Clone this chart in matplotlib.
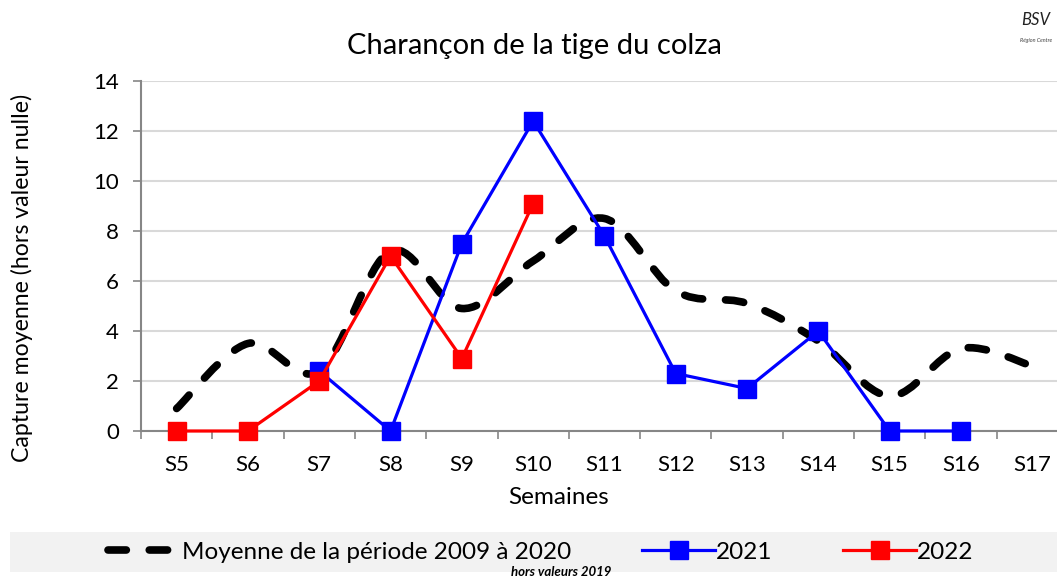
import numpy as np
import matplotlib
matplotlib.use("Agg")
import matplotlib.pyplot as plt
from matplotlib.path import Path
from matplotlib.patches import PathPatch, Rectangle
from matplotlib.lines import Line2D

# ---- data ----
weeks = ["S5", "S6", "S7", "S8", "S9", "S10", "S11", "S12", "S13", "S14", "S15", "S16", "S17"]
mean_2009_2020 = [0.9, 3.5, 2.4, 7.2, 4.9, 6.8, 8.5, 5.6, 5.1, 3.6, 1.4, 3.3, 2.6]
y2021 = [np.nan, np.nan, 2.4, 0.0, 7.5, 12.4, 7.8, 2.3, 1.7, 4.0, 0.0, 0.0, np.nan]
y2022 = [0.0, 0.0, 2.0, 7.0, 2.9, 9.1, np.nan, np.nan, np.nan, np.nan, np.nan, np.nan, np.nan]
yticks = [0, 2, 4, 6, 8, 10, 12, 14]

plt.rcParams['font.family'] = ['Lato', 'DejaVu Sans']

W, H = 1057, 578
fig = plt.figure(figsize=(W / 100, H / 100), dpi=100)

# axes: x from 141 px, width 13 categories * 71.3 px; y from 81 to 431 px
left, right = 141, 141 + 13 * 71.3
top, bottom = 81, 431
ax = fig.add_axes([left / W, 1 - bottom / H, (right - left) / W, (bottom - top) / H])

x = np.arange(len(weeks))

# smoothed mean line (Excel-like Catmull-Rom Bezier)
pts = np.column_stack([x, mean_2009_2020]).astype(float)
ext = np.vstack([pts[0], pts, pts[-1]])
verts = [tuple(pts[0])]
codes = [Path.MOVETO]
for i in range(len(pts) - 1):
    p_prev, p0, p1, p_next = ext[i], ext[i + 1], ext[i + 2], ext[i + 3]
    c1 = p0 + (p1 - p_prev) / 6.0
    c2 = p1 - (p_next - p0) / 6.0
    verts += [tuple(c1), tuple(c2), tuple(p1)]
    codes += [Path.CURVE4] * 3
mean_style = dict(color='black', lw=5.5, dashes=(2.4, 3.0), dash_capstyle='round')
patch = PathPatch(Path(verts, codes), fill=False, edgecolor='black', lw=5.5,
                  linestyle=(0, (2.4, 3.0)), capstyle='round', zorder=3)
ax.add_patch(patch)

ax.plot(x, y2021, color='#0000ff', lw=2.3, marker='s', markersize=13, zorder=4, clip_on=False)
ax.plot(x, y2022, color='#ff0000', lw=2.3, marker='s', markersize=13, zorder=5, clip_on=False)

ax.set_xlim(-0.5, len(weeks) - 0.5)
ax.set_ylim(0, 14)
ax.set_yticks(yticks)
ax.set_yticklabels([str(v) for v in yticks], fontsize=16)
ax.set_xticks(x)
ax.set_xticklabels(weeks, fontsize=16)
ax.set_xticks(np.arange(-0.5, len(weeks), 1.0), minor=True)
ax.tick_params(axis='x', which='major', length=0, pad=17)
ax.tick_params(axis='x', which='minor', length=6, width=1.2, color='#868686', direction='out')
ax.tick_params(axis='y', length=6, width=1.2, color='#868686', direction='out', pad=10)
ax.grid(axis='y', color='#d9d9d9', lw=1.5)
ax.set_axisbelow(True)
for s in ['top', 'right']:
    ax.spines[s].set_visible(False)
for s in ['left', 'bottom']:
    ax.spines[s].set_color('#868686')
    ax.spines[s].set_linewidth(1.5)

ax.set_xlabel('Semaines', fontsize=17.5)
ax.xaxis.label.set_va('center')
ax.xaxis.set_label_coords((559 - left) / (right - left), (bottom - 497) / (bottom - top))
fig.text(22 / W, 1 - 278 / H, 'Capture moyenne (hors valeur nulle)', rotation=90,
         ha='center', va='center', fontsize=16.7)
fig.text(534 / W, 1 - 46 / H, 'Charançon de la tige du colza', ha='center', va='center', fontsize=21)

# legend band
fig.patches.append(Rectangle((10 / W, 1 - 572 / H), (W - 10) / W, 40 / H,
                             transform=fig.transFigure, facecolor='#f2f2f2', edgecolor='none', zorder=0))
handles = [
    Line2D([], [], **mean_style),
    Line2D([], [], color='#0000ff', lw=2.3, marker='s', markersize=13),
    Line2D([], [], color='#ff0000', lw=2.3, marker='s', markersize=13),
]
labels = ['Moyenne de la période 2009 à 2020', '2021', '2022']
fig.legend(handles, labels, loc='center', bbox_to_anchor=(541 / W, 1 - 552 / H), ncol=3,
           frameon=False, fontsize=17.5, handlelength=3.0, handletextpad=0.05,
           columnspacing=2.9, borderpad=0, borderaxespad=0)
fig.text(561 / W, 1 - 572 / H, 'hors valeurs 2019', ha='center', va='center',
         fontsize=9.5, fontweight='bold', style='italic')

# small logo text
fig.text(1036 / W, 1 - 20 / H, 'BSV', ha='center', va='center', fontsize=12, style='italic',
         color='#222222')
fig.text(1036 / W, 1 - 40 / H, 'Région Centre', ha='center', va='center', fontsize=4,
         style='italic', color='#444444')

fig.savefig('out.png', dpi=100)
